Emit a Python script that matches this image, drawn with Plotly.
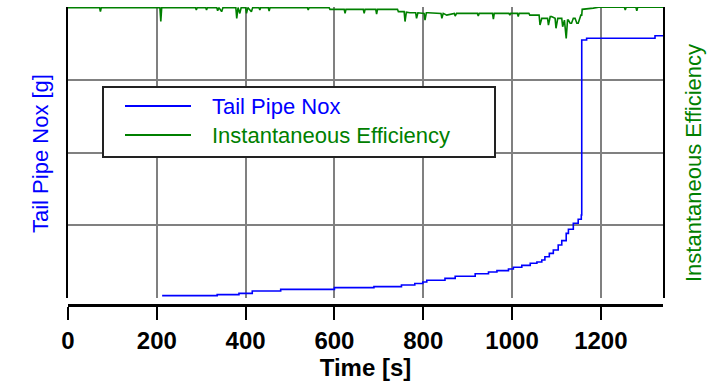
import plotly.graph_objects as go

# ---- data ----
nox_time = [212, 336, 385, 415, 479, 600, 689, 751, 781, 799, 808, 849, 872, 917, 947, 966,
            992, 1003, 1022, 1041, 1056, 1067, 1074, 1084, 1093, 1104, 1112, 1122, 1127, 1138,
            1149, 1156, 1157, 1168, 1322, 1340]
nox_value = [0.032, 0.046, 0.064, 0.096, 0.119, 0.142, 0.156, 0.179, 0.200, 0.220, 0.243, 0.270,
             0.300, 0.334, 0.357, 0.376, 0.399, 0.422, 0.449, 0.477, 0.495, 0.522, 0.568, 0.614,
             0.660, 0.729, 0.788, 0.889, 0.944, 1.027, 1.082, 1.141, 3.546, 3.570, 3.605, 3.605]

eff_time = [0, 71, 73, 75, 207, 209, 211, 287, 289, 291, 310, 312, 314, 335, 337, 340, 346, 349,
            378, 380, 383, 387, 390, 400, 402, 405, 413, 416, 430, 432, 434, 451, 453, 455,
            539, 541, 543, 588, 590, 622, 624, 626, 665, 667, 669, 693, 695, 697, 742, 744,
            757, 759, 762, 770, 783, 785, 788, 796, 802, 804, 807, 811, 840, 842, 845, 853,
            870, 872, 875, 922, 924, 926, 956, 958, 960, 993, 995, 997, 1012, 1014, 1016,
            1038, 1040, 1061, 1063, 1067, 1071, 1080, 1082, 1086, 1089, 1097, 1099, 1103,
            1107, 1112, 1114, 1118, 1122, 1125, 1127, 1131, 1134, 1138, 1142, 1146, 1149,
            1152, 1155, 1157, 1158, 1183, 1195, 1253, 1255, 1257, 1279, 1281, 1283, 1340]
eff_value = [0.998, 0.998, 0.984, 0.998, 0.998, 0.950, 0.998, 0.998, 0.990, 0.998, 0.998, 0.990,
             0.998, 0.998, 0.987, 0.998, 0.984, 0.998,
             0.998, 0.961, 0.998, 0.978, 0.998, 0.998, 0.978, 0.998, 0.984, 0.998, 0.998, 0.990,
             0.998, 0.998, 0.986, 0.998,
             0.998, 0.990, 0.998, 0.998, 0.992, 0.992, 0.978, 0.992, 0.992, 0.978, 0.992,
             0.992, 0.976, 0.992, 0.992, 0.984,
             0.984, 0.950, 0.982, 0.980, 0.980, 0.961, 0.980, 0.978, 0.978, 0.955, 0.980, 0.980,
             0.978, 0.961, 0.978, 0.972,
             0.978, 0.969, 0.978, 0.978, 0.969, 0.978, 0.978, 0.958, 0.978, 0.978, 0.972, 0.978,
             0.978, 0.967, 0.978,
             0.978, 0.972, 0.972, 0.938, 0.961, 0.961, 0.961, 0.938, 0.967, 0.967, 0.961, 0.927,
             0.961,
             0.961, 0.961, 0.932, 0.955, 0.892, 0.955, 0.955, 0.944, 0.944, 0.961, 0.961, 0.944,
             0.944,
             0.960, 0.972, 0.972, 0.992, 0.996, 0.999, 0.999, 0.990, 0.999, 0.999, 0.987, 0.999,
             0.999]

x_ticks = [0, 200, 400, 600, 800, 1000, 1200]

# ---- geometry helpers (pixels -> paper) ----
W, H = 714, 387
ML, MR, MT, MB = 68, 51, 7, 82
PW, PH = W - ML - MR, H - MT - MB


def px(x):
    return (x - ML) / PW


def py(y):
    return (H - MB - y) / PH


FONT = "Liberation Sans, Arial, sans-serif"
BLUE = "#0000FF"
GREEN = "#008000"

fig = go.Figure()
fig.add_trace(go.Scatter(x=nox_time, y=nox_value, name="Tail Pipe Nox", mode="lines",
                         line=dict(color=BLUE, width=1.6, shape="hv"), yaxis="y"))
fig.add_trace(go.Scatter(x=eff_time, y=eff_value, name="Instantaneous Efficiency", mode="lines",
                         line=dict(color=GREEN, width=1.6), yaxis="y2"))

fig.update_layout(
    width=W, height=H,
    margin=dict(l=ML, r=MR, t=MT, b=MB, autoexpand=False),
    paper_bgcolor="white", plot_bgcolor="white",
    showlegend=False,
    font=dict(family=FONT),
    xaxis=dict(range=[0, 1340], tickvals=x_ticks, ticktext=[str(v) for v in x_ticks],
               showgrid=True, gridcolor="#808080", gridwidth=1.5, zeroline=False,
               showline=True, linecolor="black", linewidth=2.5,
               ticks="outside", ticklen=13, tickwidth=2, tickcolor="black",
               tickfont=dict(family=FONT, size=24, color="black", weight="bold"),
               anchor="free", position=0, automargin=False,
               title=dict(text="Time [s]", font=dict(family=FONT, size=24, color="black",
                                                     weight="bold"), standoff=2)),
    xaxis2=dict(overlaying="x", matches="x", anchor="y", showgrid=False, zeroline=False,
                showticklabels=False, ticks="", showline=True, mirror=True,
                linecolor="black", linewidth=2, layer="below traces"),
    yaxis=dict(domain=[7 / PH, 1], range=[0, 4], dtick=1, showgrid=True, gridcolor="#808080",
               gridwidth=1.5, zeroline=False, showticklabels=False, ticks="",
               showline=True, mirror=True, linecolor="black", linewidth=2,
               layer="below traces", automargin=False),
    yaxis2=dict(overlaying="y", side="right", range=[0, 1], showgrid=False, zeroline=False,
                showticklabels=False, showline=False, ticks="", automargin=False),
)

# axis titles
fig.add_annotation(text="Tail Pipe Nox [g]", xref="paper", yref="paper", x=px(40), y=py(154),
                   textangle=-90, showarrow=False, xanchor="center", yanchor="middle",
                   font=dict(family=FONT, size=22, color=BLUE))
fig.add_annotation(text="Instantaneous Efficiency", xref="paper", yref="paper", x=px(693),
                   y=py(163), textangle=-90, showarrow=False, xanchor="center", yanchor="middle",
                   font=dict(family=FONT, size=22, color=GREEN))

# legend box
fig.add_shape(type="rect", xref="paper", yref="paper", x0=px(103), x1=px(495), y0=py(157),
              y1=py(87), line=dict(color="#222222", width=2), fillcolor="white", layer="above")
for name, color, yy in [("Tail Pipe Nox", BLUE, 106), ("Instantaneous Efficiency", GREEN, 135)]:
    fig.add_shape(type="line", xref="paper", yref="paper", x0=px(125), x1=px(191), y0=py(yy),
                  y1=py(yy), line=dict(color=color, width=2), layer="above")
    fig.add_annotation(text=name, xref="paper", yref="paper", x=px(210), y=py(yy),
                       showarrow=False, xanchor="left", yanchor="middle",
                       font=dict(family=FONT, size=22, color=color))

fig.write_html("out.html", config={"displayModeBar": False},
               post_script="document.body.style.margin='0';document.body.style.overflow='hidden';")
